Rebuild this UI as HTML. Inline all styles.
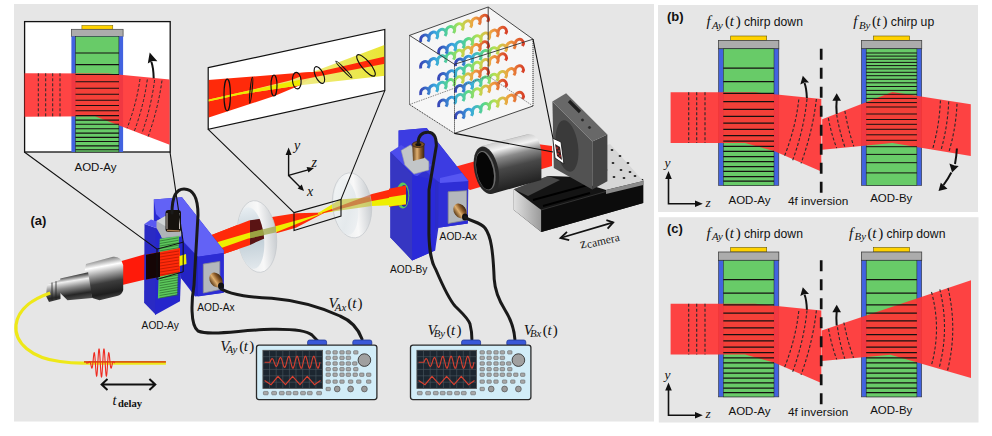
<!DOCTYPE html><html><head><meta charset="utf-8"><style>html,body{margin:0;padding:0;background:#fff;overflow:hidden}svg{display:block}</style></head><body>
<svg width="992" height="436" viewBox="0 0 992 436">
<rect width="992" height="436" fill="#fff"/>
<rect x="14" y="4" width="640" height="417.5" fill="#e6e6e6"/>
<rect x="24.6" y="21.6" width="145.6" height="130.4" fill="#fff" stroke="#111" stroke-width="1.3"/>
<g>
<rect x="81.9" y="25.4" width="30.9" height="3.9" fill="#ffd200" stroke="#6a5a00" stroke-width="0.5"/>
<rect x="71.4" y="29.3" width="51.7" height="7.1" fill="#acacac" stroke="#444" stroke-width="0.7"/>
<rect x="71.4" y="36.4" width="51.7" height="115.6" fill="#4263e0"/>
<rect x="75.5" y="36.4" width="43.4" height="115.6" fill="#68cb68" stroke="#222" stroke-width="0.5"/>
<path d="M24.6 73.3L107.8 73.5L169.6 79.6L169.6 144.7L122.5 126.7L95 116.3L24.6 116.8Z" fill="#ff3434" fill-opacity="0.92"/>
<path d="M75.5 53.0H119.0M75.5 64.6H119.0M75.5 74.5H119.0M75.5 81.7H119.0M75.5 88.3H119.0M75.5 94.3H119.0M75.5 100.2H119.0M75.5 105.5H119.0M75.5 110.8H119.0M75.5 115.6H119.0M75.5 120.1H119.0M75.5 124.3H119.0M75.5 128.7H119.0M75.5 133.1H119.0M75.5 137.4H119.0M75.5 141.5H119.0M75.5 145.9H119.0M75.5 149.8H119.0" stroke="#151010" stroke-width="1.1" fill="none"/>
<path d="M38.3 73.3V116.8M45.7 73.3V116.8M52.7 73.3V116.8M60 73.3V116.8" stroke="#2a2a2a" stroke-width="1" stroke-dasharray="3 2" fill="none"/>
<path d="M140 79Q136.55 103.6 127.1 128.2M147.3 79.5Q143.85000000000002 105.25 134.4 131M154.6 80Q151.2 106.85 141.8 133.7M162 80.5Q158.1 108.5 148.2 136.5" stroke="#2a2a2a" stroke-width="1" stroke-dasharray="3 2" fill="none"/>
<path d="M153.7 78.3Q153.5 68 151.3 61.5" stroke="#111" stroke-width="2" fill="none"/>
<path d="M149.7 52.6L157.4 61.2L152 61L147.8 63.5Z" fill="#111"/>
</g>
<text x="74.5" y="171.1" font-family='"Liberation Sans", sans-serif' font-size="11.5" fill="#111">AOD-Ay</text>
<text x="30.5" y="224.8" font-family='"Liberation Sans", sans-serif' font-weight="bold" font-size="13" fill="#111">(a)</text>
<path d="M208.2 67.7L384.8 29.5L384.8 90.6L208.2 129.3Z" fill="#fff" stroke="#111" stroke-width="1.2"/>
<defs><clipPath id="cp2"><path d="M208.8 68.4L384.2 30.3L384.2 90L208.8 128.6Z"/></clipPath><linearGradient id="ylw" x1="0" y1="0" x2="1" y2="0"><stop offset="0" stop-color="#f0ea30"/><stop offset="0.5" stop-color="#eeea80"/><stop offset="1" stop-color="#e8e420"/></linearGradient></defs>
<g clip-path="url(#cp2)">
<path d="M208 80L300 72.8L320 71.5L300 85.2L275 95.8L208 117.7Z" fill="#ff2a0a"/>
<path d="M208 99.8L240 92.6L290 80.5L392 42L392 75.1L300 85.2L240 94.4L208 101.6Z" fill="url(#ylw)" fill-opacity="0.95"/>
<path d="M208 99.8L240 92.6L300 79.7L300 85.2L240 94.4L208 101.6Z" fill="#eeea00"/>
<path d="M300 73L320 71.5L392 55L392 62.5L320 76L300 80Z" fill="#ff2a0a"/>
<ellipse cx="227.2" cy="94.9" rx="3.2" ry="15.8" transform="rotate(0 227.2 94.9)" fill="none" stroke="#111" stroke-width="1.15"/>
<ellipse cx="251.1" cy="90.2" rx="1.0" ry="13" transform="rotate(6 251.1 90.2)" fill="none" stroke="#111" stroke-width="1.15"/>
<ellipse cx="274" cy="85.5" rx="3" ry="10.5" transform="rotate(0 274 85.5)" fill="none" stroke="#111" stroke-width="1.15"/>
<ellipse cx="296.8" cy="80.6" rx="4.3" ry="8.3" transform="rotate(-5 296.8 80.6)" fill="none" stroke="#111" stroke-width="1.15"/>
<ellipse cx="319.4" cy="75" rx="4" ry="9" transform="rotate(-25 319.4 75)" fill="none" stroke="#111" stroke-width="1.15"/>
<ellipse cx="343.9" cy="69.5" rx="1.2" ry="11.5" transform="rotate(-44 343.9 69.5)" fill="none" stroke="#111" stroke-width="1.15"/>
<ellipse cx="366" cy="65.4" rx="4.3" ry="13.5" transform="rotate(-40 366 65.4)" fill="none" stroke="#111" stroke-width="1.15"/>
</g>
<path d="M409.5 35.4L488.2 7L533 39.2L533 106L454.5 133.4L409.5 104.5Z" fill="#f6f6f6" stroke="none"/>
<defs><linearGradient id="hel" x1="0" y1="0" x2="1" y2="0"><stop offset="0" stop-color="#3848b8"/><stop offset="0.22" stop-color="#38a8e0"/><stop offset="0.42" stop-color="#58d888"/><stop offset="0.58" stop-color="#b8e050"/><stop offset="0.78" stop-color="#f0a040"/><stop offset="1" stop-color="#d84028"/></linearGradient></defs>
<path d="M420.7 42.0C419.7 34.6 428.2 31.8 429.2 39.2l-1.2 2.4M429.2 39.2C428.2 31.8 436.7 29.0 437.7 36.4l-1.2 2.4M437.7 36.4C436.7 29.0 445.2 26.2 446.2 33.6l-1.2 2.4M446.2 33.6C445.2 26.2 453.7 23.4 454.7 30.8l-1.2 2.4M454.7 30.8C453.7 23.4 462.2 20.6 463.2 27.9l-1.2 2.4M463.2 27.9C462.2 20.6 470.7 17.8 471.7 25.1l-1.2 2.4M471.7 25.1C470.7 17.8 479.2 14.9 480.2 22.3l-1.2 2.4M480.2 22.3C479.2 14.9 487.7 12.1 488.7 19.5l-1.2 2.4M488.7 19.5" stroke="url(#hel)" stroke-width="2.9" fill="none" stroke-linejoin="bevel"/>
<path d="M420.7 68.5C419.7 61.1 428.2 58.3 429.2 65.7l-1.2 2.4M429.2 65.7C428.2 58.3 436.7 55.5 437.7 62.9l-1.2 2.4M437.7 62.9C436.7 55.5 445.2 52.7 446.2 60.1l-1.2 2.4M446.2 60.1C445.2 52.7 453.7 49.9 454.7 57.2l-1.2 2.4M454.7 57.2C453.7 49.9 462.2 47.1 463.2 54.4l-1.2 2.4M463.2 54.4C462.2 47.1 470.7 44.3 471.7 51.6l-1.2 2.4M471.7 51.6C470.7 44.3 479.2 41.4 480.2 48.8l-1.2 2.4M480.2 48.8C479.2 41.4 487.7 38.6 488.7 46.0l-1.2 2.4M488.7 46.0" stroke="url(#hel)" stroke-width="2.9" fill="none" stroke-linejoin="bevel"/>
<path d="M420.7 95.0C419.7 87.6 428.2 84.8 429.2 92.2l-1.2 2.4M429.2 92.2C428.2 84.8 436.7 82.0 437.7 89.4l-1.2 2.4M437.7 89.4C436.7 82.0 445.2 79.2 446.2 86.6l-1.2 2.4M446.2 86.6C445.2 79.2 453.7 76.4 454.7 83.8l-1.2 2.4M454.7 83.8C453.7 76.4 462.2 73.6 463.2 80.9l-1.2 2.4M463.2 80.9C462.2 73.6 470.7 70.8 471.7 78.1l-1.2 2.4M471.7 78.1C470.7 70.8 479.2 67.9 480.2 75.3l-1.2 2.4M480.2 75.3C479.2 67.9 487.7 65.1 488.7 72.5l-1.2 2.4M488.7 72.5" stroke="url(#hel)" stroke-width="2.9" fill="none" stroke-linejoin="bevel"/>
<path d="M438.7 54.1C437.7 46.7 446.2 43.9 447.2 51.3l-1.2 2.4M447.2 51.3C446.2 43.9 454.7 41.1 455.7 48.5l-1.2 2.4M455.7 48.5C454.7 41.1 463.2 38.3 464.2 45.7l-1.2 2.4M464.2 45.7C463.2 38.3 471.7 35.5 472.7 42.9l-1.2 2.4M472.7 42.9C471.7 35.5 480.2 32.7 481.2 40.0l-1.2 2.4M481.2 40.0C480.2 32.7 488.7 29.9 489.7 37.2l-1.2 2.4M489.7 37.2C488.7 29.9 497.2 27.0 498.2 34.4l-1.2 2.4M498.2 34.4C497.2 27.0 505.7 24.2 506.7 31.6l-1.2 2.4M506.7 31.6" stroke="url(#hel)" stroke-width="2.9" fill="none" stroke-linejoin="bevel"/>
<path d="M438.7 80.6C437.7 73.2 446.2 70.4 447.2 77.8l-1.2 2.4M447.2 77.8C446.2 70.4 454.7 67.6 455.7 75.0l-1.2 2.4M455.7 75.0C454.7 67.6 463.2 64.8 464.2 72.2l-1.2 2.4M464.2 72.2C463.2 64.8 471.7 62.0 472.7 69.3l-1.2 2.4M472.7 69.3C471.7 62.0 480.2 59.2 481.2 66.5l-1.2 2.4M481.2 66.5C480.2 59.2 488.7 56.4 489.7 63.7l-1.2 2.4M489.7 63.7C488.7 56.4 497.2 53.5 498.2 60.9l-1.2 2.4M498.2 60.9C497.2 53.5 505.7 50.7 506.7 58.1l-1.2 2.4M506.7 58.1" stroke="url(#hel)" stroke-width="2.9" fill="none" stroke-linejoin="bevel"/>
<path d="M438.7 107.1C437.7 99.7 446.2 96.9 447.2 104.3l-1.2 2.4M447.2 104.3C446.2 96.9 454.7 94.1 455.7 101.5l-1.2 2.4M455.7 101.5C454.7 94.1 463.2 91.3 464.2 98.7l-1.2 2.4M464.2 98.7C463.2 91.3 471.7 88.5 472.7 95.8l-1.2 2.4M472.7 95.8C471.7 88.5 480.2 85.7 481.2 93.0l-1.2 2.4M481.2 93.0C480.2 85.7 488.7 82.9 489.7 90.2l-1.2 2.4M489.7 90.2C488.7 82.9 497.2 80.0 498.2 87.4l-1.2 2.4M498.2 87.4C497.2 80.0 505.7 77.2 506.7 84.6l-1.2 2.4M506.7 84.6" stroke="url(#hel)" stroke-width="2.9" fill="none" stroke-linejoin="bevel"/>
<path d="M455.6 66.1C454.6 58.7 463.1 55.9 464.1 63.3l-1.2 2.4M464.1 63.3C463.1 55.9 471.6 53.1 472.6 60.5l-1.2 2.4M472.6 60.5C471.6 53.1 480.1 50.3 481.1 57.7l-1.2 2.4M481.1 57.7C480.1 50.3 488.6 47.5 489.6 54.8l-1.2 2.4M489.6 54.8C488.6 47.5 497.1 44.7 498.1 52.0l-1.2 2.4M498.1 52.0C497.1 44.7 505.6 41.9 506.6 49.2l-1.2 2.4M506.6 49.2C505.6 41.9 514.1 39.0 515.1 46.4l-1.2 2.4M515.1 46.4C514.1 39.0 522.6 36.2 523.6 43.6l-1.2 2.4M523.6 43.6" stroke="url(#hel)" stroke-width="2.9" fill="none" stroke-linejoin="bevel"/>
<path d="M455.6 92.6C454.6 85.2 463.1 82.4 464.1 89.8l-1.2 2.4M464.1 89.8C463.1 82.4 471.6 79.6 472.6 87.0l-1.2 2.4M472.6 87.0C471.6 79.6 480.1 76.8 481.1 84.2l-1.2 2.4M481.1 84.2C480.1 76.8 488.6 74.0 489.6 81.3l-1.2 2.4M489.6 81.3C488.6 74.0 497.1 71.2 498.1 78.5l-1.2 2.4M498.1 78.5C497.1 71.2 505.6 68.4 506.6 75.7l-1.2 2.4M506.6 75.7C505.6 68.4 514.1 65.5 515.1 72.9l-1.2 2.4M515.1 72.9C514.1 65.5 522.6 62.7 523.6 70.1l-1.2 2.4M523.6 70.1" stroke="url(#hel)" stroke-width="2.9" fill="none" stroke-linejoin="bevel"/>
<path d="M455.6 119.1C454.6 111.7 463.1 108.9 464.1 116.3l-1.2 2.4M464.1 116.3C463.1 108.9 471.6 106.1 472.6 113.5l-1.2 2.4M472.6 113.5C471.6 106.1 480.1 103.3 481.1 110.7l-1.2 2.4M481.1 110.7C480.1 103.3 488.6 100.5 489.6 107.8l-1.2 2.4M489.6 107.8C488.6 100.5 497.1 97.7 498.1 105.0l-1.2 2.4M498.1 105.0C497.1 97.7 505.6 94.9 506.6 102.2l-1.2 2.4M506.6 102.2C505.6 94.9 514.1 92.0 515.1 99.4l-1.2 2.4M515.1 99.4C514.1 92.0 522.6 89.2 523.6 96.6l-1.2 2.4M523.6 96.6" stroke="url(#hel)" stroke-width="2.9" fill="none" stroke-linejoin="bevel"/>
<path d="M409.5 35.4L488.2 7L533 39.2L454.5 64.3Z M454.5 133.4L533 106" fill="none" stroke="#333" stroke-width="0.9"/>
<path d="M454.5 64.3V133.4 M409.5 35.4V104.5L454.5 133.4M533 106V39.2" fill="none" stroke="#222" stroke-width="0.9" stroke-dasharray="1.2 0.8"/>
<path d="M488.2 76L409.5 104.5M488.2 76L533 106" fill="none" stroke="#555" stroke-width="0.7" stroke-dasharray="1.5 1"/>
<path d="M488.2 7V76" fill="none" stroke="#333" stroke-width="0.9"/>
<defs><linearGradient id="metal" x1="0" y1="0" x2="0" y2="1"><stop offset="0" stop-color="#303030"/><stop offset="0.25" stop-color="#f4f4f4"/><stop offset="0.45" stop-color="#8a8a8a"/><stop offset="0.7" stop-color="#2a2a2a"/><stop offset="1" stop-color="#555"/></linearGradient><linearGradient id="barrel" gradientUnits="userSpaceOnUse" x1="497" y1="140" x2="510" y2="192"><stop offset="0" stop-color="#505050"/><stop offset="0.05" stop-color="#d0d0d0"/><stop offset="0.18" stop-color="#f2f2f2"/><stop offset="0.34" stop-color="#8a8a8a"/><stop offset="0.55" stop-color="#484848"/><stop offset="0.85" stop-color="#2a2a2a"/><stop offset="1" stop-color="#1a1a1a"/></linearGradient><linearGradient id="lensg" x1="0" y1="0" x2="1" y2="1"><stop offset="0" stop-color="#dfe8ee"/><stop offset="0.5" stop-color="#b8c8d2"/><stop offset="1" stop-color="#e8eef2"/></linearGradient><linearGradient id="bronze" x1="0" y1="0" x2="1" y2="0"><stop offset="0" stop-color="#5a3a18"/><stop offset="0.4" stop-color="#e0b070"/><stop offset="0.7" stop-color="#8a5a28"/><stop offset="1" stop-color="#3a2410"/></linearGradient><linearGradient id="stagefront" x1="0" y1="0" x2="1" y2="0"><stop offset="0" stop-color="#e0e0e0"/><stop offset="1" stop-color="#9a9a9a"/></linearGradient><linearGradient id="baseg" x1="0" y1="0" x2="1" y2="0"><stop offset="0" stop-color="#c8c8c8"/><stop offset="0.5" stop-color="#202020"/><stop offset="1" stop-color="#111"/></linearGradient></defs>
<path d="M440 171L537 143.9L552 146L552 166L470 190Z" fill="#ff2a1a"/>
<path d="M513.8 189.2L548 176L643.2 179L643.2 203L541.3 231.9L513.8 209.9Z" fill="#141414"/>
<path d="M513.8 189.2L548 176L560 180L528 196Z" fill="#6a6a6a" fill-opacity="0.6"/>
<path d="M513.8 189.2L541.3 209.9L541.3 231.9L513.8 209.9Z" fill="url(#stagefront)"/>
<path d="M541.3 209.9L643.2 181L643.2 203L541.3 231.9Z" fill="#0c0c0c"/>
<path d="M541.3 209.9L643.2 181" stroke="#3a3a3a" stroke-width="0.8"/>
<path d="M590 185L597 148L610.1 144.1L643.2 181L606 190Z" fill="#d6d6d6"/>
<path d="M606 190L643.2 181L643.2 185L606 194Z" fill="#8a8a8a"/>
<ellipse cx="612" cy="150" rx="1.4" ry="1.1" fill="#222"/>
<ellipse cx="620" cy="156" rx="1.4" ry="1.1" fill="#222"/>
<ellipse cx="628" cy="163" rx="1.4" ry="1.1" fill="#222"/>
<ellipse cx="604" cy="156" rx="1.4" ry="1.1" fill="#222"/>
<ellipse cx="613" cy="163" rx="1.4" ry="1.1" fill="#222"/>
<ellipse cx="621" cy="170" rx="1.4" ry="1.1" fill="#222"/>
<ellipse cx="630" cy="172" rx="1.4" ry="1.1" fill="#222"/>
<ellipse cx="606" cy="170" rx="1.4" ry="1.1" fill="#222"/>
<ellipse cx="614" cy="177" rx="1.4" ry="1.1" fill="#222"/>
<ellipse cx="624" cy="178" rx="1.4" ry="1.1" fill="#222"/>
<ellipse cx="635" cy="176" rx="1.4" ry="1.1" fill="#222"/>
<path d="M533 200L588 185M543 206L590 193" stroke="#000" stroke-width="2"/>
<path d="M592.3 141.4L607.4 134.5L607.4 181.3L592.3 189.5Z" fill="#444"/>
<path d="M552.4 101.5L592.3 141.4L592.3 189.5L553.8 168Z" fill="#525252"/>
<path d="M552.4 101.5L566.1 93.3L607.4 134.5L592.3 141.4Z" fill="#686868"/>
<ellipse cx="567" cy="146" rx="11" ry="26" transform="rotate(-8 567 146)" fill="#3a3a3a"/>
<path d="M569 101L580 112" stroke="#1e1e1e" stroke-width="3.2"/><circle cx="582.5" cy="120" r="1.8" fill="#2a2a2a" stroke="#777" stroke-width="0.5"/><circle cx="589.5" cy="127.5" r="1.8" fill="#2a2a2a" stroke="#777" stroke-width="0.5"/>
<path d="M552.8 138.3L561 142L563.9 164L555 158Z" fill="#fff" stroke="#111" stroke-width="0.8"/>
<path d="M555 144L560 147L562 160L557 156Z" fill="#3a2020"/>
<circle cx="557" cy="148" r="0.8" fill="#ff3030"/>
<circle cx="559" cy="151" r="0.8" fill="#ff3030"/>
<circle cx="558" cy="154" r="0.8" fill="#ff3030"/>
<circle cx="560" cy="156" r="0.8" fill="#ff3030"/>
<path d="M480.3 146.5L526.8 134.5Q539 132 541.4 152L541.4 180L492.4 193.8Z" fill="url(#barrel)"/>
<ellipse cx="486.4" cy="170.3" rx="12" ry="24.2" transform="rotate(-12 486.4 170.3)" fill="#262626"/>
<ellipse cx="485.6" cy="170.6" rx="9.3" ry="20" transform="rotate(-12 485.6 170.6)" fill="#6a6a6a"/>
<ellipse cx="485" cy="170.8" rx="8.3" ry="19" transform="rotate(-12 485 170.8)" fill="#060606"/>
<path d="M533 39.2L553 138.3M454.5 133.4L553 152" stroke="#111" stroke-width="1.1" fill="none"/>
<path d="M560.5 238L613.2 222.4" stroke="#111" stroke-width="1.8"/>
<path d="M567 231.8L560.5 238L569.2 240.2M606.4 220.2L613.2 222.4L607.6 228.6" stroke="#111" stroke-width="1.8" fill="none"/>
<text transform="translate(581 248.5) rotate(-13)" font-family='"Liberation Serif", serif' font-size="14" fill="#1a1a1a">z<tspan font-size="11.5" dx="0.5" dy="1.2">camera</tspan></text>
<path d="M118 262L160 250L160 276L118 286Z" fill="#ff1a0a"/>
<path d="M200 262L248 245.8L275.5 233.5L296 227.7L325 212.4L296 213.3L272 217L249 220.5L200 239.5Z" fill="#ff2a0a"/><path d="M200 247.3L248.2 232.9L275.5 226.2L325 212.4L275.5 232.6L248.2 238.6L200 255.4Z" fill="#eeee00"/>
<path d="M318 213L340 199.4L372 197L408.6 193.5L408.6 204.5L372 206L340 210.5L318 214Z" fill="#eeee00"/><path d="M322 212.8L372 194L405 185.7L405 195L372 201L322 213.5Z" fill="#ff2a0a"/>
<defs><clipPath id="lf1"><ellipse cx="251" cy="238" rx="13" ry="31" transform="rotate(-6 251 238)"/></clipPath><clipPath id="lf2"><ellipse cx="346" cy="207" rx="12" ry="28" transform="rotate(-6 346 207)"/></clipPath><linearGradient id="rim" x1="0" y1="0" x2="1" y2="0"><stop offset="0" stop-color="#e4e8ea"/><stop offset="0.6" stop-color="#f8f8f8"/><stop offset="1" stop-color="#c8ccd0"/></linearGradient><linearGradient id="face" x1="0" y1="0" x2="0" y2="1"><stop offset="0" stop-color="#e8eef2"/><stop offset="0.5" stop-color="#bfcdd6"/><stop offset="1" stop-color="#e2e8ec"/></linearGradient><linearGradient id="face2" x1="0" y1="0" x2="1" y2="1"><stop offset="0" stop-color="#f4f6f7"/><stop offset="0.6" stop-color="#e4e9ec"/><stop offset="1" stop-color="#f0f2f4"/></linearGradient></defs>
<ellipse cx="257" cy="236.5" rx="19.5" ry="36" transform="rotate(-6 257 236.5)" fill="url(#rim)" stroke="#c4c8cc" stroke-width="0.7"/>
<ellipse cx="251" cy="238" rx="13" ry="31" transform="rotate(-6 251 238)" fill="url(#face)"/>
<defs><clipPath id="l250"><rect x="150" y="150" width="100" height="150"/></clipPath><clipPath id="r250"><rect x="250" y="150" width="26" height="150"/></clipPath></defs>
<g clip-path="url(#lf1)"><g clip-path="url(#r250)"><path d="M200 262L248 245.8L275.5 233.5L296 227.7L325 212.4L296 213.3L272 217L249 220.5L200 239.5Z" fill="#5a1414"/><path d="M200 247.3L248.2 232.9L275.5 226.2L325 212.4L275.5 232.6L248.2 238.6L200 255.4Z" fill="#8a9030"/></g></g>
<g clip-path="url(#r250)"><path d="M200 247.3L248.2 232.9L275.5 226.2L325 212.4L275.5 232.6L248.2 238.6L200 255.4Z" fill="#a0a848" fill-opacity="0.75"/></g>
<g clip-path="url(#l250)"><path d="M200 262L248 245.8L275.5 233.5L296 227.7L325 212.4L296 213.3L272 217L249 220.5L200 239.5Z" fill="#ff2a0a"/><path d="M200 247.3L248.2 232.9L275.5 226.2L325 212.4L275.5 232.6L248.2 238.6L200 255.4Z" fill="#eeee00"/></g>
<ellipse cx="352" cy="205.4" rx="19.5" ry="32.6" transform="rotate(-6 352 205.4)" fill="url(#rim)" stroke="#c4c8cc" stroke-width="0.7"/>
<ellipse cx="346" cy="207" rx="12" ry="28" transform="rotate(-6 346 207)" fill="url(#face2)" fill-opacity="0.95"/>
<defs><clipPath id="lo2"><ellipse cx="352" cy="205.4" rx="19.5" ry="32.6" transform="rotate(-6 352 205.4)"/></clipPath></defs>
<g clip-path="url(#lo2)"><path d="M318 213L340 199.4L372 197L408.6 193.5L408.6 204.5L372 206L340 210.5L318 214Z" fill="#c8c848" fill-opacity="0.75"/><path d="M322 212.8L372 194L405 185.7L405 195L372 201L322 213.5Z" fill="#c8502c" fill-opacity="0.6"/><path d="M200 262L248 245.8L275.5 233.5L296 227.7L325 212.4L296 213.3L272 217L249 220.5L200 239.5Z" fill="#c8502c" fill-opacity="0.6"/></g>
<path d="M294 212.6L341 199.4L341 216L294 230.5Z" fill="none" stroke="#111" stroke-width="1.1"/>
<path d="M208.2 129.3L294 212.6M384.8 90.6L341 199.4" stroke="#111" stroke-width="1.1" fill="none"/>
<defs><linearGradient id="metal2" gradientUnits="userSpaceOnUse" x1="100" y1="257" x2="108" y2="300"><stop offset="0" stop-color="#3a3a3a"/><stop offset="0.08" stop-color="#9a9a9a"/><stop offset="0.22" stop-color="#ffffff"/><stop offset="0.4" stop-color="#a0a0a0"/><stop offset="0.6" stop-color="#3c3c3c"/><stop offset="0.85" stop-color="#1e1e1e"/><stop offset="1" stop-color="#4a4a4a"/></linearGradient><linearGradient id="metal3" gradientUnits="userSpaceOnUse" x1="70" y1="276" x2="74" y2="301"><stop offset="0" stop-color="#444"/><stop offset="0.2" stop-color="#f0f0f0"/><stop offset="0.45" stop-color="#8a8a8a"/><stop offset="0.75" stop-color="#262626"/><stop offset="1" stop-color="#555"/></linearGradient></defs>
<path d="M86 264L113 256.8Q121 256 123.2 265L123.2 290Q122 295 117 296L99.5 300.2L92.3 298.1L84.5 272Z" fill="url(#metal2)"/>
<path d="M60.3 278.5L88.1 272.3L92.3 298.1L67.5 300.2L59.2 292Z" fill="url(#metal3)"/>
<path d="M47 284.5L60.3 280L60.5 299L49 302L46 296Z" fill="url(#metal3)"/>
<path d="M52 282.5V300M56 281.3V299.5" stroke="#222" stroke-width="0.8"/>
<path d="M50.2 292.9C35 298 18 308 16 325C14 343 32 358 60 361.5C70 363 76 363.2 82 363.2H165.9" stroke="#eee818" stroke-width="3.2" fill="none"/>
<path d="M84 361.9H165.9" stroke="#d85a14" stroke-width="1.8" fill="none"/>
<path d="M86 362.9L88.00 362.90L88.17 362.81L88.34 362.70L88.51 362.55L88.67 362.39L88.84 362.20L89.01 362.02L89.18 361.84L89.35 361.70L89.52 361.60L89.69 361.59L89.86 361.66L90.03 361.85L90.19 362.16L90.36 362.61L90.53 363.17L90.70 363.84L90.87 364.59L91.04 365.38L91.21 366.16L91.38 366.88L91.54 367.48L91.71 367.90L91.88 368.09L92.05 368.00L92.22 367.61L92.39 366.90L92.56 365.88L92.72 364.58L92.89 363.05L93.06 361.35L93.23 359.58L93.40 357.82L93.57 356.18L93.74 354.77L93.91 353.67L94.08 352.97L94.24 352.73L94.41 353.00L94.58 353.78L94.75 355.05L94.92 356.78L95.09 358.89L95.26 361.28L95.42 363.84L95.59 366.45L95.76 368.96L95.93 371.25L96.10 373.20L96.27 374.69L96.44 375.66L96.61 376.03L96.78 375.77L96.94 374.90L97.11 373.45L97.28 371.47L97.45 369.07L97.62 366.35L97.79 363.44L97.96 360.48L98.12 357.62L98.29 354.99L98.46 352.72L98.63 350.91L98.80 349.66L98.97 349.03L99.14 349.05L99.31 349.71L99.47 350.99L99.64 352.82L99.81 355.13L99.98 357.80L100.15 360.71L100.32 363.72L100.49 366.70L100.66 369.50L100.83 371.99L100.99 374.06L101.16 375.61L101.33 376.57L101.50 376.90L101.67 376.57L101.84 375.61L102.01 374.06L102.17 371.99L102.34 369.50L102.51 366.70L102.68 363.72L102.85 360.71L103.02 357.80L103.19 355.13L103.36 352.82L103.53 350.99L103.69 349.71L103.86 349.05L104.03 349.03L104.20 349.66L104.37 350.91L104.54 352.72L104.71 354.99L104.88 357.62L105.04 360.48L105.21 363.44L105.38 366.35L105.55 369.07L105.72 371.47L105.89 373.45L106.06 374.90L106.22 375.77L106.39 376.03L106.56 375.66L106.73 374.69L106.90 373.20L107.07 371.25L107.24 368.96L107.41 366.45L107.58 363.84L107.74 361.28L107.91 358.89L108.08 356.78L108.25 355.05L108.42 353.78L108.59 353.00L108.76 352.73L108.92 352.97L109.09 353.67L109.26 354.77L109.43 356.18L109.60 357.82L109.77 359.58L109.94 361.35L110.11 363.05L110.28 364.58L110.44 365.88L110.61 366.90L110.78 367.61L110.95 368.00L111.12 368.09L111.29 367.90L111.46 367.48L111.62 366.88L111.79 366.16L111.96 365.38L112.13 364.59L112.30 363.84L112.47 363.17L112.64 362.61L112.81 362.16L112.97 361.85L113.14 361.66L113.31 361.59L113.48 361.60L113.65 361.70L113.82 361.84L113.99 362.02L114.16 362.20L114.33 362.39L114.49 362.55L114.66 362.70L114.83 362.81L115.00 362.90" stroke="#ee2a20" stroke-width="1.1" fill="none"/>
<path d="M101.6 384.5H155.3M107.5 379L101.6 384.5L107.5 390M149.4 379L155.3 384.5L149.4 390" stroke="#111" stroke-width="2" fill="none"/>
<text x="112.6" y="404.9" font-family='"Liberation Serif", serif' font-style="italic" font-size="14.5" fill="#111">t</text><text x="117.9" y="406.9" font-family='"Liberation Serif", serif' font-weight="bold" font-size="10.6" fill="#111">delay</text>
<path d="M153.8 199.6L182 197.2L223.7 250.2L223.7 292.7L195 296.5L181 278L181 236L153.8 222Z" fill="#2a2ad2"/>
<path d="M153.8 199.6L182 197.2L223.7 250.2L223.7 253L197.9 256.8L183 241L156 214Z" fill="#6262f6"/>
<path d="M181 241L197.9 256.8L197.9 296.5L181 278Z" fill="#2424c4"/>
<path d="M197.9 256.8L223.7 253L223.7 292.7L197.9 296.5Z" fill="#2c2cd4"/>
<path d="M203.3 264.1L219.8 261.4L219.8 289.6L203.3 293Z" fill="#b4b8bc" stroke="#8a8e92" stroke-width="0.8" stroke-linejoin="round"/>
<ellipse cx="216" cy="280" rx="6" ry="8" transform="rotate(-35 216 280)" fill="url(#bronze)"/>
<ellipse cx="221" cy="286" rx="3" ry="3.5" fill="#111"/>
<path d="M144.5 224L156 228L156 315L144.1 302.7Z" fill="#2a2ac4"/>
<path d="M156 228L182.5 232L180 301.3L155.1 315Z" fill="#2626cc"/>
<path d="M144.5 224L151 219.5L182.5 230L156 228Z" fill="#5a5af2"/>
<path d="M157 224.5L164.3 216.5L181.2 227.8L181.2 236.6L161.9 238.2Z" fill="#a8acb0"/>
<path d="M159.8 238.8L179 236L177.2 294.4L157.9 298.5Z" fill="#5cc85c"/>
<path d="M159.6 241.0L178.5 237.8M159.6 243.5L178.5 240.3M159.6 246.0L178.5 242.8M159.6 248.4L178.5 245.2M159.6 250.9L178.5 247.7M159.6 253.4L178.5 250.2M159.6 255.9L178.5 252.7M159.6 258.3L178.5 255.1M159.6 260.8L178.5 257.6M159.6 263.3L178.5 260.1M159.6 265.8L178.5 262.6M159.6 268.3L178.5 265.1M159.6 270.7L178.5 267.5M159.6 273.2L178.5 270.0M159.6 275.7L178.5 272.5M159.6 278.2L178.5 275.0M159.6 280.7L178.5 277.5M159.6 283.1L178.5 279.9M159.6 285.6L178.5 282.4M159.6 288.1L178.5 284.9M159.6 290.6L178.5 287.4M159.6 293.0L178.5 289.8M159.6 295.5L178.5 292.3M159.6 298.0L178.5 294.8" stroke="#2a6a2a" stroke-width="0.7" fill="none"/>
<path d="M146 254.8L180 248L180 272L146 279.5Z" fill="#ff2a0a"/>
<path d="M146 254.8L160 252L160 277L146 279.5Z" fill="#150505"/>
<path d="M160 254.0L179 251.0M160 257.0L179 254.0M160 260.0L179 257.0M160 263.0L179 260.0M160 266.0L179 263.0M160 269.0L179 266.0M160 272.0L179 269.0M160 275.0L179 272.0" stroke="#a01000" stroke-width="0.6" fill="none"/>
<path d="M179.5 256L186 254L186.5 264L179.5 266Z" fill="#eeee00"/>
<path d="M157 249.1L183.2 242.2L183.2 271.8L157 279.4Z" fill="none" stroke="#111" stroke-width="1"/>
<path d="M156.5 228L156.5 221L165.5 216L181.3 226L181.3 235L162 237.5Z" fill="#b0b4b8"/>
<path d="M156.5 221L165.5 216L181.3 226L172 230Z" fill="#d0d4d6"/>
<rect x="165.5" y="210" width="15.5" height="22" rx="3" fill="#16120e"/>
<path d="M167 213V229M179.5 213V229" stroke="#d8d0c8" stroke-width="0.9"/>
<path d="M167 230.5L179.5 231" stroke="#b08050" stroke-width="1.6"/>
<path d="M24.3 152L157 249.1M170 152L183.2 242.2" stroke="#111" stroke-width="1.1" fill="none"/>
<path d="M398.6 130.4L426.7 128L468.4 181L467.8 223.4L438.4 227.7L435.1 250.6L412.2 260.4L390.4 237.6L390.4 152L398.6 150Z" fill="#3030d0"/>
<path d="M398.6 130.4L426.7 128L468.4 181L440 183L412 160L398.6 150Z" fill="#3c3ce2"/>
<path d="M390.4 152L401.2 145L432 165L416 177Z" fill="#4c4cec"/>
<path d="M390.4 152L412.2 175L412.2 260.4L390.4 237.6Z" fill="#3636c2"/>
<path d="M412.2 175L435.1 180L435.1 250.6L412.2 260.4Z" fill="#2a2ad8"/>
<path d="M435.1 180L440 183L438.4 227.7L435.1 230Z" fill="#2c2cc8"/>
<path d="M438.4 183L467.8 182L467.8 223.4L438.4 227.7Z" fill="#2e2ed6"/>
<path d="M440 178L462 173L468.4 181L440 183Z" fill="#5656f2"/>
<path d="M448.2 191.8L466.7 190.7L466.7 220.1L448.2 223.4Z" fill="#b4b8bc" stroke="#8a8e92" stroke-width="0.8"/>
<ellipse cx="460" cy="211" rx="6" ry="8" transform="rotate(-35 460 211)" fill="url(#bronze)"/>
<ellipse cx="465" cy="217" rx="3" ry="3.5" fill="#111"/>
<path d="M401.2 150.4L410.4 144.9L428.8 161.4L428.8 170L414 174L404.9 165.1Z" fill="#c2c6c8" stroke="#9a9ea2" stroke-width="0.6"/>
<path d="M412.3 146L424.3 143L424.3 158L413 161Z" fill="url(#bronze)"/>
<ellipse cx="418.3" cy="144.5" rx="6" ry="3" fill="#7a5020" stroke="#3a2410" stroke-width="0.8"/>
<ellipse cx="418.3" cy="144.5" rx="3" ry="1.5" fill="#111"/>
<ellipse cx="402.8" cy="195.5" rx="6.5" ry="13" fill="#5ac85a"/>
<ellipse cx="404" cy="196" rx="4.3" ry="11" fill="#2a2aa8"/>
<path d="M389 188.8L406 185.5L406 204.6L389 206.7Z" fill="#ff2a0a"/>
<path d="M389 197.2L406 194.5L406 204.3L389 206.4Z" fill="#eeee00"/>
<path d="M172 213C172 196 176 189 184 189C194 189 198 198 198 215L194 285C191.5 300 190 325 198 331C210 336 240 330 271.7 329.3C290 329 306 330 312 335L317.5 340.7" stroke="#1a1a1a" stroke-width="3" fill="none" stroke-linecap="round"/>
<path d="M221.3 289.2C235 296 250 297 271.7 298.3C298 300.5 320 307 340 316C352 321 358 328 362 339" stroke="#1a1a1a" stroke-width="3" fill="none" stroke-linecap="round"/>
<path d="M418.3 143C418 136 422 132 428.3 132.2C434 132.5 436.5 138 436.3 146L429 190L428.9 234.4C429.5 252 431 262 436 270C442 284 448 298 455 306C462 313 468 318 470 324C471.5 330 471.9 334 471.9 339.3" stroke="#1a1a1a" stroke-width="3" fill="none" stroke-linecap="round"/>
<path d="M465 217.2C472 222 480 222 485 228C491 236 493 250 494.2 279.1C495 292 500 302 505 310C510 318 514 326 514.9 339.3" stroke="#1a1a1a" stroke-width="3" fill="none" stroke-linecap="round"/>
<rect x="307.6" y="340" width="19" height="6" rx="2" fill="#3a58d8" stroke="#223a9a" stroke-width="0.8"/>
<rect x="352.8" y="340" width="19" height="6" rx="2" fill="#3a58d8" stroke="#223a9a" stroke-width="0.8"/>
<rect x="256.5" y="345.1" width="120.4" height="54.5" rx="2.5" fill="#d2edf8" stroke="#2a2a2a" stroke-width="1.3"/>
<rect x="262.9" y="350.3" width="59.7" height="38.2" fill="#1c2630" stroke="#555" stroke-width="0.8"/>
<path d="M269.5 350.3V388.5M276.2 350.3V388.5M282.8 350.3V388.5M289.4 350.3V388.5M296.0 350.3V388.5M302.7 350.3V388.5M309.3 350.3V388.5M315.9 350.3V388.5M262.9 356.7H322.6M262.9 363.0H322.6M262.9 369.4H322.6M262.9 375.8H322.6M262.9 382.2H322.6" stroke="#4a5860" stroke-width="0.6" fill="none"/>
<path d="M264.6 362.2L270 362.2L270.50 360.96L271.00 359.85L271.50 359.03L272.00 358.64L272.50 358.74L273.00 359.35L273.50 360.38L274.00 361.72L274.50 363.17L275.00 364.54L275.50 365.61L276.00 366.24L276.50 366.30L277.00 365.78L277.50 364.73L278.00 363.29L278.50 361.64L279.00 360.02L279.50 358.67L280.00 357.78L280.50 357.49L281.00 357.87L281.50 358.88L282.00 360.39L282.50 362.20L283.00 364.06L283.50 365.71L284.00 366.90L284.50 367.45L285.00 367.26L285.50 366.35L286.00 364.83L286.50 362.89L287.00 360.81L287.50 358.87L288.00 357.36L288.50 356.51L289.00 356.44L289.50 357.19L290.00 358.67L290.50 360.71L291.00 362.95L291.50 365.09L292.00 366.82L292.50 367.91L293.00 368.19L293.50 367.63L294.00 366.31L294.50 364.41L295.00 362.20L295.50 359.99L296.00 358.09L296.50 356.77L297.00 356.21L297.50 356.49L298.00 357.58L298.50 359.31L299.00 361.45L299.50 363.69L300.00 365.73L300.50 367.27L301.00 368.09L301.50 368.09L302.00 367.27L302.50 365.73L303.00 363.69L303.50 361.45L304.00 359.31L304.50 357.58L305.00 356.49L305.50 356.21L306.00 356.77L306.50 358.09L307.00 359.99L307.50 362.20L308.00 364.41L308.50 366.31L309.00 367.63L309.50 368.19L310.00 367.91L310.50 366.82L311.00 365.09L311.50 362.95L312.00 360.71L312.50 358.67L313.00 357.13L313.50 356.31L314.00 356.31L314.50 357.13L315.00 358.67L315.50 360.71L316.00 362.95L316.50 365.09L317.00 366.82L317.50 367.91L318.00 368.19L318.50 367.63L319.00 366.31L319.50 364.41L320.00 362.20" stroke="#d84030" stroke-width="1.1" fill="none"/>
<path d="M264.6 380.5L271.0 384.7L278.0 376.4L285.5 384.7L292.6 376.4L300.0 384.7L307.2 376.4L314.5 384.7L320.5 380.5" stroke="#d84030" stroke-width="1.1" fill="none"/>
<rect x="326.0" y="350.7" width="4.4" height="3.4" rx="0.8" fill="#a8a8a8" stroke="#555" stroke-width="0.5"/><rect x="332.9" y="350.7" width="4.4" height="3.4" rx="0.8" fill="#a8a8a8" stroke="#555" stroke-width="0.5"/><rect x="339.8" y="350.7" width="4.4" height="3.4" rx="0.8" fill="#a8a8a8" stroke="#555" stroke-width="0.5"/><rect x="346.2" y="350.7" width="4.4" height="3.4" rx="0.8" fill="#a8a8a8" stroke="#555" stroke-width="0.5"/><rect x="353.6" y="350.7" width="4.4" height="3.4" rx="0.8" fill="#a8a8a8" stroke="#555" stroke-width="0.5"/><rect x="326.0" y="356.2" width="4.4" height="3.4" rx="0.8" fill="#a8a8a8" stroke="#555" stroke-width="0.5"/><rect x="332.9" y="356.2" width="4.4" height="3.4" rx="0.8" fill="#a8a8a8" stroke="#555" stroke-width="0.5"/><rect x="339.8" y="356.2" width="4.4" height="3.4" rx="0.8" fill="#a8a8a8" stroke="#555" stroke-width="0.5"/><rect x="346.2" y="356.2" width="4.4" height="3.4" rx="0.8" fill="#a8a8a8" stroke="#555" stroke-width="0.5"/><rect x="326.0" y="361.8" width="4.4" height="3.4" rx="0.8" fill="#a8a8a8" stroke="#555" stroke-width="0.5"/><rect x="332.9" y="361.8" width="4.4" height="3.4" rx="0.8" fill="#a8a8a8" stroke="#555" stroke-width="0.5"/><rect x="339.8" y="361.8" width="4.4" height="3.4" rx="0.8" fill="#a8a8a8" stroke="#555" stroke-width="0.5"/><rect x="346.2" y="361.8" width="4.4" height="3.4" rx="0.8" fill="#a8a8a8" stroke="#555" stroke-width="0.5"/><rect x="352.6" y="361.8" width="4.4" height="3.4" rx="0.8" fill="#a8a8a8" stroke="#555" stroke-width="0.5"/><rect x="326.0" y="367.5" width="4.4" height="3.4" rx="0.8" fill="#a8a8a8" stroke="#555" stroke-width="0.5"/><rect x="332.9" y="367.5" width="4.4" height="3.4" rx="0.8" fill="#a8a8a8" stroke="#555" stroke-width="0.5"/><rect x="339.8" y="367.5" width="4.4" height="3.4" rx="0.8" fill="#a8a8a8" stroke="#555" stroke-width="0.5"/><rect x="346.2" y="367.5" width="4.4" height="3.4" rx="0.8" fill="#a8a8a8" stroke="#555" stroke-width="0.5"/><rect x="353.6" y="367.5" width="4.4" height="3.4" rx="0.8" fill="#a8a8a8" stroke="#555" stroke-width="0.5"/><rect x="326.0" y="373.0" width="4.4" height="3.4" rx="0.8" fill="#a8a8a8" stroke="#555" stroke-width="0.5"/><rect x="332.9" y="373.0" width="4.4" height="3.4" rx="0.8" fill="#a8a8a8" stroke="#555" stroke-width="0.5"/><rect x="339.8" y="373.0" width="4.4" height="3.4" rx="0.8" fill="#a8a8a8" stroke="#555" stroke-width="0.5"/><rect x="346.2" y="373.0" width="4.4" height="3.4" rx="0.8" fill="#a8a8a8" stroke="#555" stroke-width="0.5"/><rect x="353.0" y="373.0" width="4.4" height="3.4" rx="0.8" fill="#a8a8a8" stroke="#555" stroke-width="0.5"/><rect x="359.6" y="373.0" width="4.4" height="3.4" rx="0.8" fill="#a8a8a8" stroke="#555" stroke-width="0.5"/><rect x="366.5" y="373.0" width="4.4" height="3.4" rx="0.8" fill="#a8a8a8" stroke="#555" stroke-width="0.5"/><rect x="326.0" y="379.9" width="4.4" height="3.4" rx="0.8" fill="#a8a8a8" stroke="#555" stroke-width="0.5"/><rect x="332.9" y="379.9" width="4.4" height="3.4" rx="0.8" fill="#a8a8a8" stroke="#555" stroke-width="0.5"/><rect x="339.8" y="379.9" width="4.4" height="3.4" rx="0.8" fill="#a8a8a8" stroke="#555" stroke-width="0.5"/><rect x="348.4" y="379.9" width="4.4" height="3.4" rx="0.8" fill="#a8a8a8" stroke="#555" stroke-width="0.5"/><rect x="356.6" y="379.9" width="4.4" height="3.4" rx="0.8" fill="#a8a8a8" stroke="#555" stroke-width="0.5"/><rect x="366.5" y="379.9" width="4.4" height="3.4" rx="0.8" fill="#a8a8a8" stroke="#555" stroke-width="0.5"/><rect x="326.0" y="387.3" width="4.4" height="3.4" rx="0.8" fill="#a8a8a8" stroke="#555" stroke-width="0.5"/><rect x="263.4" y="391.4" width="4.8" height="3.4" rx="0.8" fill="#a8a8a8" stroke="#555" stroke-width="0.5"/><rect x="271.7" y="391.4" width="4.8" height="3.4" rx="0.8" fill="#a8a8a8" stroke="#555" stroke-width="0.5"/><rect x="279.4" y="391.4" width="4.8" height="3.4" rx="0.8" fill="#a8a8a8" stroke="#555" stroke-width="0.5"/><rect x="286.3" y="391.4" width="4.8" height="3.4" rx="0.8" fill="#a8a8a8" stroke="#555" stroke-width="0.5"/><rect x="293.2" y="391.4" width="4.8" height="3.4" rx="0.8" fill="#a8a8a8" stroke="#555" stroke-width="0.5"/><rect x="300.6" y="391.4" width="4.8" height="3.4" rx="0.8" fill="#a8a8a8" stroke="#555" stroke-width="0.5"/><rect x="307.4" y="391.4" width="4.8" height="3.4" rx="0.8" fill="#a8a8a8" stroke="#555" stroke-width="0.5"/><rect x="316.7" y="391.4" width="4.8" height="3.4" rx="0.8" fill="#a8a8a8" stroke="#555" stroke-width="0.5"/><circle cx="337.2" cy="389" r="2.9" fill="#9a9a9a" stroke="#444" stroke-width="0.6"/><circle cx="350.6" cy="389" r="2.9" fill="#9a9a9a" stroke="#444" stroke-width="0.6"/><circle cx="364.4" cy="389" r="2.9" fill="#9a9a9a" stroke="#444" stroke-width="0.6"/><circle cx="364.4" cy="360.1" r="6.3" fill="#a0a0a0" stroke="#333" stroke-width="0.9"/>
<rect x="461.6" y="340" width="19" height="6" rx="2" fill="#3a58d8" stroke="#223a9a" stroke-width="0.8"/>
<rect x="506.8" y="340" width="19" height="6" rx="2" fill="#3a58d8" stroke="#223a9a" stroke-width="0.8"/>
<rect x="410.5" y="345.1" width="120.4" height="54.5" rx="2.5" fill="#d2edf8" stroke="#2a2a2a" stroke-width="1.3"/>
<rect x="416.9" y="350.3" width="59.7" height="38.2" fill="#1c2630" stroke="#555" stroke-width="0.8"/>
<path d="M423.5 350.3V388.5M430.2 350.3V388.5M436.8 350.3V388.5M443.4 350.3V388.5M450.0 350.3V388.5M456.7 350.3V388.5M463.3 350.3V388.5M469.9 350.3V388.5M416.9 356.7H476.6M416.9 363.0H476.6M416.9 369.4H476.6M416.9 375.8H476.6M416.9 382.2H476.6" stroke="#4a5860" stroke-width="0.6" fill="none"/>
<path d="M418.6 362.2L424 362.2L424.50 360.96L425.00 359.85L425.50 359.03L426.00 358.64L426.50 358.74L427.00 359.35L427.50 360.38L428.00 361.72L428.50 363.17L429.00 364.54L429.50 365.61L430.00 366.24L430.50 366.30L431.00 365.78L431.50 364.73L432.00 363.29L432.50 361.64L433.00 360.02L433.50 358.67L434.00 357.78L434.50 357.49L435.00 357.87L435.50 358.88L436.00 360.39L436.50 362.20L437.00 364.06L437.50 365.71L438.00 366.90L438.50 367.45L439.00 367.26L439.50 366.35L440.00 364.83L440.50 362.89L441.00 360.81L441.50 358.87L442.00 357.36L442.50 356.51L443.00 356.44L443.50 357.19L444.00 358.67L444.50 360.71L445.00 362.95L445.50 365.09L446.00 366.82L446.50 367.91L447.00 368.19L447.50 367.63L448.00 366.31L448.50 364.41L449.00 362.20L449.50 359.99L450.00 358.09L450.50 356.77L451.00 356.21L451.50 356.49L452.00 357.58L452.50 359.31L453.00 361.45L453.50 363.69L454.00 365.73L454.50 367.27L455.00 368.09L455.50 368.09L456.00 367.27L456.50 365.73L457.00 363.69L457.50 361.45L458.00 359.31L458.50 357.58L459.00 356.49L459.50 356.21L460.00 356.77L460.50 358.09L461.00 359.99L461.50 362.20L462.00 364.41L462.50 366.31L463.00 367.63L463.50 368.19L464.00 367.91L464.50 366.82L465.00 365.09L465.50 362.95L466.00 360.71L466.50 358.67L467.00 357.13L467.50 356.31L468.00 356.31L468.50 357.13L469.00 358.67L469.50 360.71L470.00 362.95L470.50 365.09L471.00 366.82L471.50 367.91L472.00 368.19L472.50 367.63L473.00 366.31L473.50 364.41L474.00 362.20" stroke="#d84030" stroke-width="1.1" fill="none"/>
<path d="M418.6 380.5L425.0 384.7L432.0 376.4L439.5 384.7L446.6 376.4L454.0 384.7L461.2 376.4L468.5 384.7L474.5 380.5" stroke="#d84030" stroke-width="1.1" fill="none"/>
<rect x="480.0" y="350.7" width="4.4" height="3.4" rx="0.8" fill="#a8a8a8" stroke="#555" stroke-width="0.5"/><rect x="486.9" y="350.7" width="4.4" height="3.4" rx="0.8" fill="#a8a8a8" stroke="#555" stroke-width="0.5"/><rect x="493.8" y="350.7" width="4.4" height="3.4" rx="0.8" fill="#a8a8a8" stroke="#555" stroke-width="0.5"/><rect x="500.2" y="350.7" width="4.4" height="3.4" rx="0.8" fill="#a8a8a8" stroke="#555" stroke-width="0.5"/><rect x="507.6" y="350.7" width="4.4" height="3.4" rx="0.8" fill="#a8a8a8" stroke="#555" stroke-width="0.5"/><rect x="480.0" y="356.2" width="4.4" height="3.4" rx="0.8" fill="#a8a8a8" stroke="#555" stroke-width="0.5"/><rect x="486.9" y="356.2" width="4.4" height="3.4" rx="0.8" fill="#a8a8a8" stroke="#555" stroke-width="0.5"/><rect x="493.8" y="356.2" width="4.4" height="3.4" rx="0.8" fill="#a8a8a8" stroke="#555" stroke-width="0.5"/><rect x="500.2" y="356.2" width="4.4" height="3.4" rx="0.8" fill="#a8a8a8" stroke="#555" stroke-width="0.5"/><rect x="480.0" y="361.8" width="4.4" height="3.4" rx="0.8" fill="#a8a8a8" stroke="#555" stroke-width="0.5"/><rect x="486.9" y="361.8" width="4.4" height="3.4" rx="0.8" fill="#a8a8a8" stroke="#555" stroke-width="0.5"/><rect x="493.8" y="361.8" width="4.4" height="3.4" rx="0.8" fill="#a8a8a8" stroke="#555" stroke-width="0.5"/><rect x="500.2" y="361.8" width="4.4" height="3.4" rx="0.8" fill="#a8a8a8" stroke="#555" stroke-width="0.5"/><rect x="506.6" y="361.8" width="4.4" height="3.4" rx="0.8" fill="#a8a8a8" stroke="#555" stroke-width="0.5"/><rect x="480.0" y="367.5" width="4.4" height="3.4" rx="0.8" fill="#a8a8a8" stroke="#555" stroke-width="0.5"/><rect x="486.9" y="367.5" width="4.4" height="3.4" rx="0.8" fill="#a8a8a8" stroke="#555" stroke-width="0.5"/><rect x="493.8" y="367.5" width="4.4" height="3.4" rx="0.8" fill="#a8a8a8" stroke="#555" stroke-width="0.5"/><rect x="500.2" y="367.5" width="4.4" height="3.4" rx="0.8" fill="#a8a8a8" stroke="#555" stroke-width="0.5"/><rect x="507.6" y="367.5" width="4.4" height="3.4" rx="0.8" fill="#a8a8a8" stroke="#555" stroke-width="0.5"/><rect x="480.0" y="373.0" width="4.4" height="3.4" rx="0.8" fill="#a8a8a8" stroke="#555" stroke-width="0.5"/><rect x="486.9" y="373.0" width="4.4" height="3.4" rx="0.8" fill="#a8a8a8" stroke="#555" stroke-width="0.5"/><rect x="493.8" y="373.0" width="4.4" height="3.4" rx="0.8" fill="#a8a8a8" stroke="#555" stroke-width="0.5"/><rect x="500.2" y="373.0" width="4.4" height="3.4" rx="0.8" fill="#a8a8a8" stroke="#555" stroke-width="0.5"/><rect x="507.0" y="373.0" width="4.4" height="3.4" rx="0.8" fill="#a8a8a8" stroke="#555" stroke-width="0.5"/><rect x="513.6" y="373.0" width="4.4" height="3.4" rx="0.8" fill="#a8a8a8" stroke="#555" stroke-width="0.5"/><rect x="520.5" y="373.0" width="4.4" height="3.4" rx="0.8" fill="#a8a8a8" stroke="#555" stroke-width="0.5"/><rect x="480.0" y="379.9" width="4.4" height="3.4" rx="0.8" fill="#a8a8a8" stroke="#555" stroke-width="0.5"/><rect x="486.9" y="379.9" width="4.4" height="3.4" rx="0.8" fill="#a8a8a8" stroke="#555" stroke-width="0.5"/><rect x="493.8" y="379.9" width="4.4" height="3.4" rx="0.8" fill="#a8a8a8" stroke="#555" stroke-width="0.5"/><rect x="502.4" y="379.9" width="4.4" height="3.4" rx="0.8" fill="#a8a8a8" stroke="#555" stroke-width="0.5"/><rect x="510.6" y="379.9" width="4.4" height="3.4" rx="0.8" fill="#a8a8a8" stroke="#555" stroke-width="0.5"/><rect x="520.5" y="379.9" width="4.4" height="3.4" rx="0.8" fill="#a8a8a8" stroke="#555" stroke-width="0.5"/><rect x="480.0" y="387.3" width="4.4" height="3.4" rx="0.8" fill="#a8a8a8" stroke="#555" stroke-width="0.5"/><rect x="417.4" y="391.4" width="4.8" height="3.4" rx="0.8" fill="#a8a8a8" stroke="#555" stroke-width="0.5"/><rect x="425.7" y="391.4" width="4.8" height="3.4" rx="0.8" fill="#a8a8a8" stroke="#555" stroke-width="0.5"/><rect x="433.4" y="391.4" width="4.8" height="3.4" rx="0.8" fill="#a8a8a8" stroke="#555" stroke-width="0.5"/><rect x="440.3" y="391.4" width="4.8" height="3.4" rx="0.8" fill="#a8a8a8" stroke="#555" stroke-width="0.5"/><rect x="447.2" y="391.4" width="4.8" height="3.4" rx="0.8" fill="#a8a8a8" stroke="#555" stroke-width="0.5"/><rect x="454.6" y="391.4" width="4.8" height="3.4" rx="0.8" fill="#a8a8a8" stroke="#555" stroke-width="0.5"/><rect x="461.4" y="391.4" width="4.8" height="3.4" rx="0.8" fill="#a8a8a8" stroke="#555" stroke-width="0.5"/><rect x="470.7" y="391.4" width="4.8" height="3.4" rx="0.8" fill="#a8a8a8" stroke="#555" stroke-width="0.5"/><circle cx="491.2" cy="389" r="2.9" fill="#9a9a9a" stroke="#444" stroke-width="0.6"/><circle cx="504.6" cy="389" r="2.9" fill="#9a9a9a" stroke="#444" stroke-width="0.6"/><circle cx="518.4" cy="389" r="2.9" fill="#9a9a9a" stroke="#444" stroke-width="0.6"/><circle cx="518.4" cy="360.1" r="6.3" fill="#a0a0a0" stroke="#333" stroke-width="0.9"/>
<text x="141.6" y="328.5" font-family='"Liberation Sans", sans-serif' font-size="10.2" fill="#111">AOD-Ay</text>
<text x="197.2" y="310.5" font-family='"Liberation Sans", sans-serif' font-size="10.2" fill="#111">AOD-Ax</text>
<text x="390" y="272.5" font-family='"Liberation Sans", sans-serif' font-size="10.2" fill="#111">AOD-By</text>
<text x="439.6" y="240.4" font-family='"Liberation Sans", sans-serif' font-size="10.2" fill="#111">AOD-Ax</text>
<text font-family='"Liberation Serif", serif' font-size="15" fill="#111"><tspan x="220.2" y="350.8" font-style="italic" font-size="15.0">V</tspan><tspan x="226.4" y="353.4" font-style="italic" font-size="10.8">Ay</tspan><tspan x="239.2" y="350.8">(</tspan><tspan x="243.8" y="350.8" font-style="italic">t</tspan><tspan x="249.2" y="350.8">)</tspan></text>
<text font-family='"Liberation Serif", serif' font-size="15" fill="#111"><tspan x="328.6" y="308.2" font-style="italic" font-size="15.0">V</tspan><tspan x="334.8" y="310.8" font-style="italic" font-size="10.8">Ax</tspan><tspan x="347.6" y="308.2">(</tspan><tspan x="352.2" y="308.2" font-style="italic">t</tspan><tspan x="357.6" y="308.2">)</tspan></text>
<text font-family='"Liberation Serif", serif' font-size="15" fill="#111"><tspan x="427.5" y="334.8" font-style="italic" font-size="15.0">V</tspan><tspan x="433.7" y="337.4" font-style="italic" font-size="10.8">By</tspan><tspan x="446.5" y="334.8">(</tspan><tspan x="451.1" y="334.8" font-style="italic">t</tspan><tspan x="456.5" y="334.8">)</tspan></text>
<text font-family='"Liberation Serif", serif' font-size="15" fill="#111"><tspan x="523.8" y="334.8" font-style="italic" font-size="15.0">V</tspan><tspan x="530.0" y="337.4" font-style="italic" font-size="10.8">Bx</tspan><tspan x="542.8" y="334.8">(</tspan><tspan x="547.4" y="334.8" font-style="italic">t</tspan><tspan x="552.8" y="334.8">)</tspan></text>
<path d="M288.6 153V175.4L309 169.6M288.6 175.4L300.5 187.5" stroke="#111" stroke-width="1.4" fill="none"/>
<path d="M288.6 147.5L291.6 155L285.6 155Z M314 168L306.6 167L308.4 172.6Z M304 191L297.6 188.6L301.8 184.6Z" fill="#111"/>
<text x="294" y="149.5" font-family='"Liberation Serif", serif' font-style="italic" font-size="14" fill="#111">y</text>
<text x="311.5" y="166.5" font-family='"Liberation Serif", serif' font-style="italic" font-size="14" fill="#111">z</text>
<text x="307" y="195.5" font-family='"Liberation Serif", serif' font-style="italic" font-size="14" fill="#111">x</text>
<rect x="658" y="5" width="320" height="207" fill="#e6e6e6"/>
<text x="667" y="21.3" font-family='"Liberation Sans", sans-serif' font-weight="bold" font-size="13" fill="#111">(b)</text>
<text font-family='"Liberation Serif", serif' font-size="15" fill="#111"><tspan x="706.5" y="26.3" font-style="italic" font-size="15.0">f</tspan><tspan x="712.1" y="28.9" font-style="italic" font-size="10.8">Ay</tspan><tspan x="725.1" y="26.3">(</tspan><tspan x="729.7" y="26.3" font-style="italic">t</tspan><tspan x="735.7" y="26.3">)</tspan></text>
<text x="744.0" y="26.3" font-family='"Liberation Sans", sans-serif' font-size="12.2" fill="#111">chirp down</text>
<text font-family='"Liberation Serif", serif' font-size="15" fill="#111"><tspan x="853.3" y="26.3" font-style="italic" font-size="15.0">f</tspan><tspan x="858.9" y="28.9" font-style="italic" font-size="10.8">By</tspan><tspan x="871.9" y="26.3">(</tspan><tspan x="876.5" y="26.3" font-style="italic">t</tspan><tspan x="882.5" y="26.3">)</tspan></text>
<text x="890.8" y="26.3" font-family='"Liberation Sans", sans-serif' font-size="12.2" fill="#111">chirp up</text>
<rect x="730.7" y="36" width="36" height="4.5" fill="#ffd200" stroke="#6a5a00" stroke-width="0.6"/>
<rect x="718.5" y="40.5" width="60.3" height="8.3" fill="#acacac" stroke="#444" stroke-width="0.8"/>
<rect x="718.5" y="48.8" width="60.3" height="136.6" fill="#4263e0" stroke="#333" stroke-width="0.6"/>
<rect x="723.3" y="48.8" width="50.7" height="136.6" fill="#68cb68" stroke="#222" stroke-width="0.5"/>
<rect x="873.6" y="36" width="36" height="4.5" fill="#ffd200" stroke="#6a5a00" stroke-width="0.6"/>
<rect x="861.4" y="40.5" width="60.3" height="8.3" fill="#acacac" stroke="#444" stroke-width="0.8"/>
<rect x="861.4" y="48.8" width="60.3" height="136.6" fill="#4263e0" stroke="#333" stroke-width="0.6"/>
<rect x="866.1999999999999" y="48.8" width="50.7" height="136.6" fill="#68cb68" stroke="#222" stroke-width="0.5"/>
<path d="M670.6 92.3L755 92.3L821.3 99L821.3 171.5L774 151L745 143L670.6 143Z" fill="#ff3434" fill-opacity="0.92"/>
<path d="M822.2 119.2L892.4 92L970.8 104.3L970.8 155.9L892.4 142.9L822.2 149.7Z" fill="#ff3434" fill-opacity="0.92"/>
<path d="M723.3 68.2H774.0M723.3 81.7H774.0M723.3 93.3H774.0M723.3 101.6H774.0M723.3 109.4H774.0M723.3 116.4H774.0M723.3 123.2H774.0M723.3 129.4H774.0M723.3 135.6H774.0M723.3 141.2H774.0M723.3 146.4H774.0M723.3 151.4H774.0M723.3 156.5H774.0M723.3 161.6H774.0M723.3 166.6H774.0M723.3 171.4H774.0M723.3 176.6H774.0M723.3 181.1H774.0" stroke="#151010" stroke-width="1.25" fill="none"/><path d="M866.2 53.0H916.9M866.2 56.1H916.9M866.2 59.2H916.9M866.2 62.4H916.9M866.2 65.6H916.9M866.2 68.9H916.9M866.2 72.3H916.9M866.2 75.7H916.9M866.2 79.3H916.9M866.2 82.8H916.9M866.2 86.5H916.9M866.2 90.4H916.9M866.2 94.3H916.9M866.2 98.4H916.9M866.2 102.6H916.9M866.2 107.0H916.9M866.2 114.0H916.9M866.2 119.5H916.9M866.2 124.3H916.9M866.2 129.3H916.9M866.2 134.8H916.9M866.2 140.3H916.9M866.2 146.7H916.9M866.2 154.4H916.9M866.2 162.7H916.9M866.2 172.9H916.9" stroke="#151010" stroke-width="1.0" fill="none"/>
<path d="M688.7 92.3V143M696.7 92.3V143M705 92.3V143" stroke="#2a2a2a" stroke-width="1.1" stroke-dasharray="3 2" fill="none"/>
<path d="M798.8 99.5Q795.5999999999999 127.85 784.4 156.2M807 99Q803.8 129.7 792.6 160.4M816.4 99Q812.7 131.2 801 163.4M828.4 118.2Q831.05 133.15 836.7 148.1M836.7 114.7Q839.3 130.85 844.9 147M844.9 111Q847.8499999999999 128.7 853.8 146.4M940.4 100.6Q939.5 124.85 932.6 149.1M948.7 101.5Q947.8 126.0 940.9 150.5M957 103.7Q956.05 127.44999999999999 949.1 151.2" stroke="#2a2a2a" stroke-width="1.1" stroke-dasharray="3 2" fill="none"/>
<path d="M821.2 48.8V193" stroke="#111" stroke-width="2.7" stroke-dasharray="11 8"/>
<path d="M806.9 98.3Q806.5 88 804.5 83" stroke="#111" stroke-width="2" fill="none"/>
<path d="M802.8 75.8L809 82.6L804.5 82.5L800.3 84.5Z" fill="#111"/>
<path d="M836.7 114Q836 106 836.7 100" stroke="#111" stroke-width="2" fill="none"/>
<path d="M836.7 93.2L841 100.8L832.4 100.8Z" fill="#111"/>
<path d="M956.9 148.5Q956.5 156 955 164M951.3 172.5Q948 179 943.5 185" stroke="#111" stroke-width="2" fill="none"/>
<path d="M952.1 172.5L949.4 163.5L954.5 165.5L958.7 166Z M938.5 191L940.8 182.8L944.5 186L947.5 188.8Z" fill="#111"/>
<path d="M668.5 178V203.8H696.5" stroke="#111" stroke-width="1.6" fill="none"/>
<path d="M668.5 171L671.8 179L665.2 179Z M702.8 203.8L695 200.6L695 207Z" fill="#111"/>
<text x="664.5" y="167" font-family='"Liberation Serif", serif' font-style="italic" font-size="13.5" fill="#111">y</text>
<text x="705.5" y="206.6" font-family='"Liberation Serif", serif' font-style="italic" font-size="13.5" fill="#111">z</text>
<text x="728.5" y="203.5" font-family='"Liberation Sans", sans-serif' font-size="11.5" fill="#111">AOD-Ay</text>
<text x="788" y="204.8" font-family='"Liberation Sans", sans-serif' font-size="11.8" fill="#111">4f inversion</text>
<text x="870.2" y="202.1" font-family='"Liberation Sans", sans-serif' font-size="11.5" fill="#111">AOD-By</text>
<rect x="658.8" y="217.2" width="319.7" height="205.3" fill="#e6e6e6"/>
<text x="667" y="232.8" font-family='"Liberation Sans", sans-serif' font-weight="bold" font-size="13" fill="#111">(c)</text>
<text font-family='"Liberation Serif", serif' font-size="15" fill="#111"><tspan x="706.5" y="237.8" font-style="italic" font-size="15.0">f</tspan><tspan x="712.1" y="240.4" font-style="italic" font-size="10.8">Ay</tspan><tspan x="725.1" y="237.8">(</tspan><tspan x="729.7" y="237.8" font-style="italic">t</tspan><tspan x="735.7" y="237.8">)</tspan></text>
<text x="744.0" y="237.8" font-family='"Liberation Sans", sans-serif' font-size="12.2" fill="#111">chirp down</text>
<text font-family='"Liberation Serif", serif' font-size="15" fill="#111"><tspan x="849" y="237.8" font-style="italic" font-size="15.0">f</tspan><tspan x="854.6" y="240.4" font-style="italic" font-size="10.8">By</tspan><tspan x="867.6" y="237.8">(</tspan><tspan x="872.2" y="237.8" font-style="italic">t</tspan><tspan x="878.2" y="237.8">)</tspan></text>
<text x="886.5" y="237.8" font-family='"Liberation Sans", sans-serif' font-size="12.2" fill="#111">chirp down</text>
<rect x="730.7" y="247.5" width="36" height="4.5" fill="#ffd200" stroke="#6a5a00" stroke-width="0.6"/>
<rect x="718.5" y="252.0" width="60.3" height="8.3" fill="#acacac" stroke="#444" stroke-width="0.8"/>
<rect x="718.5" y="260.3" width="60.3" height="136.6" fill="#4263e0" stroke="#333" stroke-width="0.6"/>
<rect x="723.3" y="260.3" width="50.7" height="136.6" fill="#68cb68" stroke="#222" stroke-width="0.5"/>
<rect x="873.6" y="247.5" width="36" height="4.5" fill="#ffd200" stroke="#6a5a00" stroke-width="0.6"/>
<rect x="861.4" y="252.0" width="60.3" height="8.3" fill="#acacac" stroke="#444" stroke-width="0.8"/>
<rect x="861.4" y="260.3" width="60.3" height="136.6" fill="#4263e0" stroke="#333" stroke-width="0.6"/>
<rect x="866.1999999999999" y="260.3" width="50.7" height="136.6" fill="#68cb68" stroke="#222" stroke-width="0.5"/>
<path d="M670.6 303.8L755 303.8L821.3 310.5L821.3 383.0L774 362.5L745 354.5L670.6 354.5Z" fill="#ff3434" fill-opacity="0.92"/>
<path d="M821.7 330.5L971 280.3L971 378.0L890.5 354.8L821.7 361.0Z" fill="#ff3434" fill-opacity="0.92"/>
<path d="M723.3 279.7H774.0M723.3 293.2H774.0M723.3 304.8H774.0M723.3 313.1H774.0M723.3 320.9H774.0M723.3 327.9H774.0M723.3 334.7H774.0M723.3 340.9H774.0M723.3 347.1H774.0M723.3 352.7H774.0M723.3 357.9H774.0M723.3 362.9H774.0M723.3 368.0H774.0M723.3 373.1H774.0M723.3 378.1H774.0M723.3 382.9H774.0M723.3 388.1H774.0M723.3 392.6H774.0M866.2 279.7H916.9M866.2 293.2H916.9M866.2 304.8H916.9M866.2 313.1H916.9M866.2 320.9H916.9M866.2 327.9H916.9M866.2 334.7H916.9M866.2 340.9H916.9M866.2 347.1H916.9M866.2 352.7H916.9M866.2 357.9H916.9M866.2 362.9H916.9M866.2 368.0H916.9M866.2 373.1H916.9M866.2 378.1H916.9M866.2 382.9H916.9M866.2 388.1H916.9M866.2 392.6H916.9" stroke="#151010" stroke-width="1.25" fill="none"/>
<path d="M688.7 303.8V354.5M696.7 303.8V354.5M705 303.8V354.5" stroke="#2a2a2a" stroke-width="1.1" stroke-dasharray="3 2" fill="none"/>
<path d="M798.8 311.0Q795.5999999999999 339.35 784.4 367.7M807 310.5Q803.8 341.2 792.6 371.9M816.4 310.5Q812.7 342.7 801 374.9M828.6 328.9Q831.1500000000001 344.15 836.7 359.4M837.5 327.3Q839.6 342.95 844.7 358.6M843.9 322.5Q847.2 340.15 853.5 357.8M931.5 292.0Q941.5 328.5 931.5 365.0M939.8 289.3Q949.5 328.55 939.2 367.8M948 288.0Q957.75 329.3 947.5 370.6" stroke="#2a2a2a" stroke-width="1.1" stroke-dasharray="3 2" fill="none"/>
<path d="M821.2 260.3V404.5" stroke="#111" stroke-width="2.7" stroke-dasharray="11 8"/>
<path d="M806.9 309.8Q806.5 299.5 804.5 294.5" stroke="#111" stroke-width="2" fill="none"/>
<path d="M802.8 287.3L809 294.1L804.5 294.0L800.3 296.0Z" fill="#111"/>
<path d="M836.7 325.5Q836 317.5 836.7 311.5" stroke="#111" stroke-width="2" fill="none"/>
<path d="M836.7 304.7L841 312.3L832.4 312.3Z" fill="#111"/>
<path d="M668.5 389.5V415.3H696.5" stroke="#111" stroke-width="1.6" fill="none"/>
<path d="M668.5 382.5L671.8 390.5L665.2 390.5Z M702.8 415.3L695 412.1L695 418.5Z" fill="#111"/>
<text x="664.5" y="378.5" font-family='"Liberation Serif", serif' font-style="italic" font-size="13.5" fill="#111">y</text>
<text x="705.5" y="418.1" font-family='"Liberation Serif", serif' font-style="italic" font-size="13.5" fill="#111">z</text>
<text x="728.5" y="415.0" font-family='"Liberation Sans", sans-serif' font-size="11.5" fill="#111">AOD-Ay</text>
<text x="788" y="416.3" font-family='"Liberation Sans", sans-serif' font-size="11.8" fill="#111">4f inversion</text>
<text x="870.2" y="413.6" font-family='"Liberation Sans", sans-serif' font-size="11.5" fill="#111">AOD-By</text>
</svg></body></html>
